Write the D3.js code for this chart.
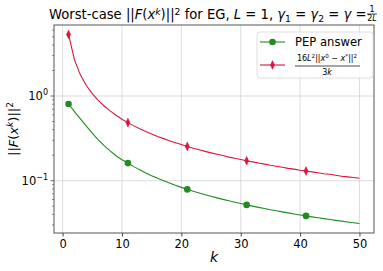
<!DOCTYPE html>
<html>
<head>
<meta charset="utf-8">
<script src="https://cdn.jsdelivr.net/npm/d3@7"></script>
<style>
  body { margin: 0; background: #fff; }
  svg text { font-family: "DejaVu Sans", sans-serif; fill: #000; }
</style>
</head>
<body>
<div id="chart-area"></div>
<script>
// iterations
var ks = d3.range(1, 51);

// worst-case ||F(x^k)||^2 from PEP
var pepValues = [0.805, 0.654, 0.536, 0.440, 0.364, 0.303, 0.260, 0.225, 0.197, 0.177,
                 0.1615, 0.1467, 0.1343, 0.1237, 0.1146, 0.1067, 0.0998, 0.0937, 0.0882, 0.0834,
                 0.0790, 0.0751, 0.0716, 0.0684, 0.0654, 0.0627, 0.0602, 0.0579, 0.0557, 0.0537,
                 0.0518, 0.0501, 0.0484, 0.0469, 0.0455, 0.0441, 0.0429, 0.0417, 0.0405, 0.0394,
                 0.0384, 0.0374, 0.0365, 0.0357, 0.0348, 0.0340, 0.0333, 0.0326, 0.0319, 0.0312];

// theoretical bound 16L^2||x0-x*||^2/(3k)
var boundValues = [5.333, 2.667, 1.778, 1.333, 1.067, 0.889, 0.762, 0.667, 0.593, 0.533,
                   0.485, 0.444, 0.410, 0.381, 0.356, 0.333, 0.314, 0.296, 0.281, 0.267,
                   0.254, 0.242, 0.232, 0.222, 0.213, 0.205, 0.198, 0.190, 0.184, 0.178,
                   0.172, 0.167, 0.162, 0.157, 0.152, 0.148, 0.144, 0.140, 0.137, 0.133,
                   0.130, 0.127, 0.124, 0.121, 0.119, 0.116, 0.113, 0.111, 0.109, 0.107];

var xTicks = [0, 10, 20, 30, 40, 50];
var yTicks = [0.1, 1];
var yTickExp = ["\u22121", "0"];

var margin = { left: 54, right: 9, top: 25, bottom: 38 },
    width = 383 - margin.left - margin.right,
    height = 271 - margin.top - margin.bottom;

var green = "#228b22", red = "#dc143c";

var svg = d3.select("#chart-area").append("svg")
    .attr("width", 383)
    .attr("height", 271);

var g = svg.append("g")
    .attr("transform", "translate(" + margin.left + "," + margin.top + ")");

// Scales (matplotlib-like 5% margins)
var xPad = (d3.max(ks) - d3.min(ks)) * 0.05;
var x = d3.scaleLinear()
    .domain([d3.min(ks) - xPad, d3.max(ks) + xPad])
    .range([0, width]);

var lo = Math.log10(d3.min(pepValues)), hi = Math.log10(d3.max(boundValues));
var lPad = (hi - lo) * 0.05;
var y = d3.scaleLog()
    .domain([Math.pow(10, lo - lPad), Math.pow(10, hi + lPad)])
    .range([height, 0]);

// Grid
g.selectAll(".vgrid").data(xTicks).enter().append("line")
    .attr("x1", function(d) { return x(d); })
    .attr("x2", function(d) { return x(d); })
    .attr("y1", 0).attr("y2", height)
    .attr("stroke", "#d4d4d4").attr("stroke-width", 0.8);
g.selectAll(".hgrid").data(yTicks).enter().append("line")
    .attr("x1", 0).attr("x2", width)
    .attr("y1", function(d) { return y(d); })
    .attr("y2", function(d) { return y(d); })
    .attr("stroke", "#d4d4d4").attr("stroke-width", 0.8);

// X axis
var xAxis = g.append("g")
    .attr("transform", "translate(0," + height + ")")
    .call(d3.axisBottom(x).tickValues(xTicks).tickSize(3.5).tickPadding(3));
xAxis.select(".domain").remove();
xAxis.selectAll("text").style("font-size", "11.5px").attr("fill", "#000");
xAxis.selectAll("line").attr("stroke", "#444");

// Y axis: minor ticks
var minor = [];
[0.01, 0.1, 1].forEach(function(b) {
    d3.range(2, 10).forEach(function(m) {
        var v = b * m;
        if (v > y.domain()[0] && v < y.domain()[1]) minor.push(v);
    });
});
g.selectAll(".minor").data(minor).enter().append("line")
    .attr("x1", -2).attr("x2", 0)
    .attr("y1", function(d) { return y(d); })
    .attr("y2", function(d) { return y(d); })
    .attr("stroke", "#444").attr("stroke-width", 0.6);
g.selectAll(".major").data(yTicks).enter().append("line")
    .attr("x1", -3.5).attr("x2", 0)
    .attr("y1", function(d) { return y(d); })
    .attr("y2", function(d) { return y(d); })
    .attr("stroke", "#444").attr("stroke-width", 0.8);
var yLab = g.selectAll(".ylab").data(yTicks).enter().append("text")
    .attr("x", -6)
    .attr("y", function(d) { return y(d) + 4; })
    .attr("text-anchor", "end")
    .style("font-size", "11.5px");
yLab.append("tspan").text("10");
yLab.append("tspan").attr("dy", -5).style("font-size", "8px")
    .text(function(d, i) { return yTickExp[i]; });

// Frame
g.append("rect")
    .attr("width", width).attr("height", height)
    .attr("fill", "none").attr("stroke", "#444").attr("stroke-width", 0.9);

// Lines
var line = d3.line()
    .x(function(d, i) { return x(ks[i]); })
    .y(function(d) { return y(d); });

g.append("path").attr("d", line(boundValues))
    .attr("fill", "none").attr("stroke", red).attr("stroke-width", 1.1);
g.append("path").attr("d", line(pepValues))
    .attr("fill", "none").attr("stroke", green).attr("stroke-width", 1.1);

var every = ks.filter(function(k, i) { return i % 10 === 0; });
var diamond = "M0,-4.3L2,0L0,4.3L-2,0Z";
g.selectAll(".dm").data(every).enter().append("path")
    .attr("d", diamond)
    .attr("transform", function(k) { return "translate(" + x(k) + "," + y(boundValues[k - 1]) + ")"; })
    .attr("fill", red).attr("stroke", red).attr("stroke-width", 0.6);
g.selectAll(".dot").data(every).enter().append("circle")
    .attr("cx", function(k) { return x(k); })
    .attr("cy", function(k) { return y(pepValues[k - 1]); })
    .attr("r", 3.3)
    .attr("fill", green);

// helper for mixed text
function rich(sel, parts) {
    parts.forEach(function(p) {
        var t = sel.append("tspan").text(p[0]);
        if (p[1] && p[1].indexOf("i") >= 0) t.style("font-style", "italic");
        if (p[1] && p[1].indexOf("sup") >= 0) t.style("font-size", "0.7em").attr("dy", p[2] || -4);
        if (p[1] && p[1].indexOf("sub") >= 0) t.style("font-size", "0.7em").attr("dy", p[2] || 2.5);
        if (p[3]) t.attr("dy", p[3]);
    });
    return sel;
}

// Title: fit between x=49 and x=378 like the reference
var title = svg.append("text").attr("y", 19).style("font-size", "10px");
rich(title, [
    ["Worst-case ||"], ["F", "i"], ["("], ["x", "i"], ["k", "i sup", -4],
    [")||", "", null, 4], ["2", "sup", -4], [" for EG, ", "", null, 4],
    ["L", "i"], [" = 1, "], ["\u03b3", "i"], ["1", "sub", 2.5], [" = ", "", null, -2.5],
    ["\u03b3", "i"], ["2", "sub", 2.5], [" = ", "", null, -2.5], ["\u03b3", "i"], [" = "]
]);
var fs = 10 * 318 / title.node().getComputedTextLength();
title.style("font-size", fs + "px");
var tStart = 49;
title.attr("x", tStart);
var tEnd = tStart + title.node().getComputedTextLength();
var fx = tEnd + 5.5;
svg.append("text").attr("x", fx).attr("y", 11.5).attr("text-anchor", "middle")
    .style("font-size", "8px").text("1");
svg.append("line").attr("x1", fx - 5).attr("x2", fx + 5).attr("y1", 14).attr("y2", 14)
    .attr("stroke", "#000").attr("stroke-width", 0.7);
var den = svg.append("text").attr("x", fx).attr("y", 21).attr("text-anchor", "middle")
    .style("font-size", "8px");
den.append("tspan").text("2");
den.append("tspan").style("font-style", "italic").text("L");

// Axis labels
svg.append("text").attr("x", margin.left + width / 2).attr("y", 262)
    .attr("text-anchor", "middle").style("font-size", "14px").style("font-style", "italic").text("k");
var yl = svg.append("text")
    .attr("transform", "translate(18," + (margin.top + height / 2) + ") rotate(-90)")
    .attr("text-anchor", "middle").style("font-size", "13px");
rich(yl, [["||"], ["F", "i"], ["("], ["x", "i"], ["k", "i sup", -5], [")||", "", null, 5], ["2", "sup", -5]]);

// Legend
var lg = svg.append("g").attr("transform", "translate(257,32)");
lg.append("rect").attr("width", 116).attr("height", 46).attr("rx", 3)
    .attr("fill", "#fff").attr("fill-opacity", 0.8)
    .attr("stroke", "#d6d6d6").attr("stroke-width", 0.8);
lg.append("line").attr("x1", 3).attr("x2", 28).attr("y1", 10).attr("y2", 10)
    .attr("stroke", green).attr("stroke-width", 1.1);
lg.append("circle").attr("cx", 15.5).attr("cy", 10).attr("r", 3.3).attr("fill", green);
lg.append("text").attr("x", 38).attr("y", 14.2).style("font-size", "11.6px").text("PEP answer");
lg.append("line").attr("x1", 3).attr("x2", 28).attr("y1", 33).attr("y2", 33)
    .attr("stroke", red).attr("stroke-width", 1.1);
lg.append("path").attr("d", diamond).attr("transform", "translate(15.5,33)")
    .attr("fill", red).attr("stroke", red).attr("stroke-width", 0.6);
var num = lg.append("text").attr("x", 70).attr("y", 29).attr("text-anchor", "middle")
    .style("font-size", "8px");
rich(num, [["16"], ["L", "i"], ["2", "sup", -3], ["||", "", null, 3], ["x", "i"], ["0", "sup", -3],
    [" \u2212 ", "", null, 3], ["x", "i"], ["*", "sup", -3], ["||", "", null, 3], ["2", "sup", -3]]);
lg.append("line").attr("x1", 38).attr("x2", 103).attr("y1", 34).attr("y2", 34)
    .attr("stroke", "#000").attr("stroke-width", 0.7);
var d3k = lg.append("text").attr("x", 70).attr("y", 42.5).attr("text-anchor", "middle")
    .style("font-size", "8px");
d3k.append("tspan").text("3");
d3k.append("tspan").style("font-style", "italic").text("k");
</script>
</body>
</html>
